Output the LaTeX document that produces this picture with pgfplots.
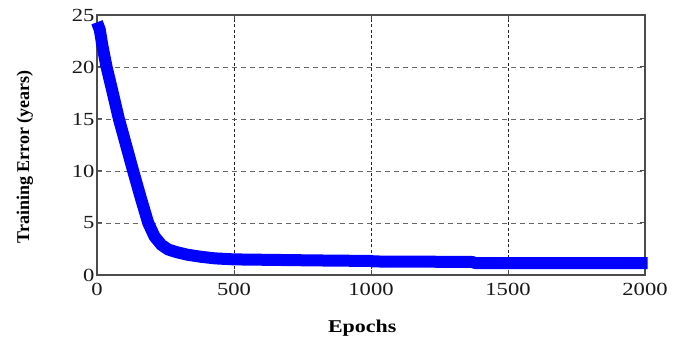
\documentclass[border=0pt]{standalone}
\usepackage{fontspec}
\setmainfont{Liberation Serif}
\newfontfamily\wide{Liberation Serif}[FakeStretch=1.22]
\usepackage{pgfplots}
\pgfplotsset{compat=1.18}
\begin{document}
\begin{tikzpicture}
\useasboundingbox (0pt,0pt) rectangle (688pt,339pt);
\begin{axis}[
  at={(97pt,64pt)}, anchor=south west,
  scale only axis, width=548pt, height=260pt,
  xmin=0, xmax=2000, ymin=0, ymax=25,
  xtick={0,500,1000,1500,2000},
  ytick={0,5,10,15,20,25},
  grid=major,
  every axis x grid/.append style={black!85, line width=0.9pt, dash pattern=on 3pt off 2.5pt},
  every axis y grid/.append style={black!60, line width=0.9pt, dash pattern=on 5pt off 4pt},
  axis line style={black!70, line width=1.2pt},
  tick style={black!70, line width=1pt},
  tick align=inside, major tick length=5pt,
  tick label style={font=\fontsize{18.5}{18.5}\selectfont\wide, text=black!90},
  /pgf/number format/assume math mode=true,
  /pgf/number format/set thousands separator={},
  xticklabel style={yshift=-5pt},
  yticklabel style={xshift=1pt},
  xlabel={\wide\bfseries Epochs},
  ylabel={\bfseries Training Error (years)},
  label style={font=\fontsize{18}{18}\selectfont},
  xlabel style={at={(axis description cs:0.484,0)}, yshift=-41pt},
  ylabel style={at={(ticklabel cs:0.455)}, yshift=32pt},
  clip=false,
]
\addplot[blue, line width=12pt, line join=round, line cap=butt] coordinates {
(0,24.3) (10,23.6) (20,22.0) (35,20.0) (55,17.8) (80,15.0) (105,12.6) (132,10.0)
(160,7.4) (187,5.0) (210,3.7) (235,2.9) (260,2.45) (290,2.2) (330,1.95) (380,1.75)
(430,1.6) (500,1.5) (650,1.45) (800,1.4) (1000,1.35) (1010,1.3) (1200,1.28)
(1370,1.25) (1380,1.15) (1700,1.15) (2000,1.15) (2010,1.15)
};
\end{axis}
\end{tikzpicture}
\end{document}
